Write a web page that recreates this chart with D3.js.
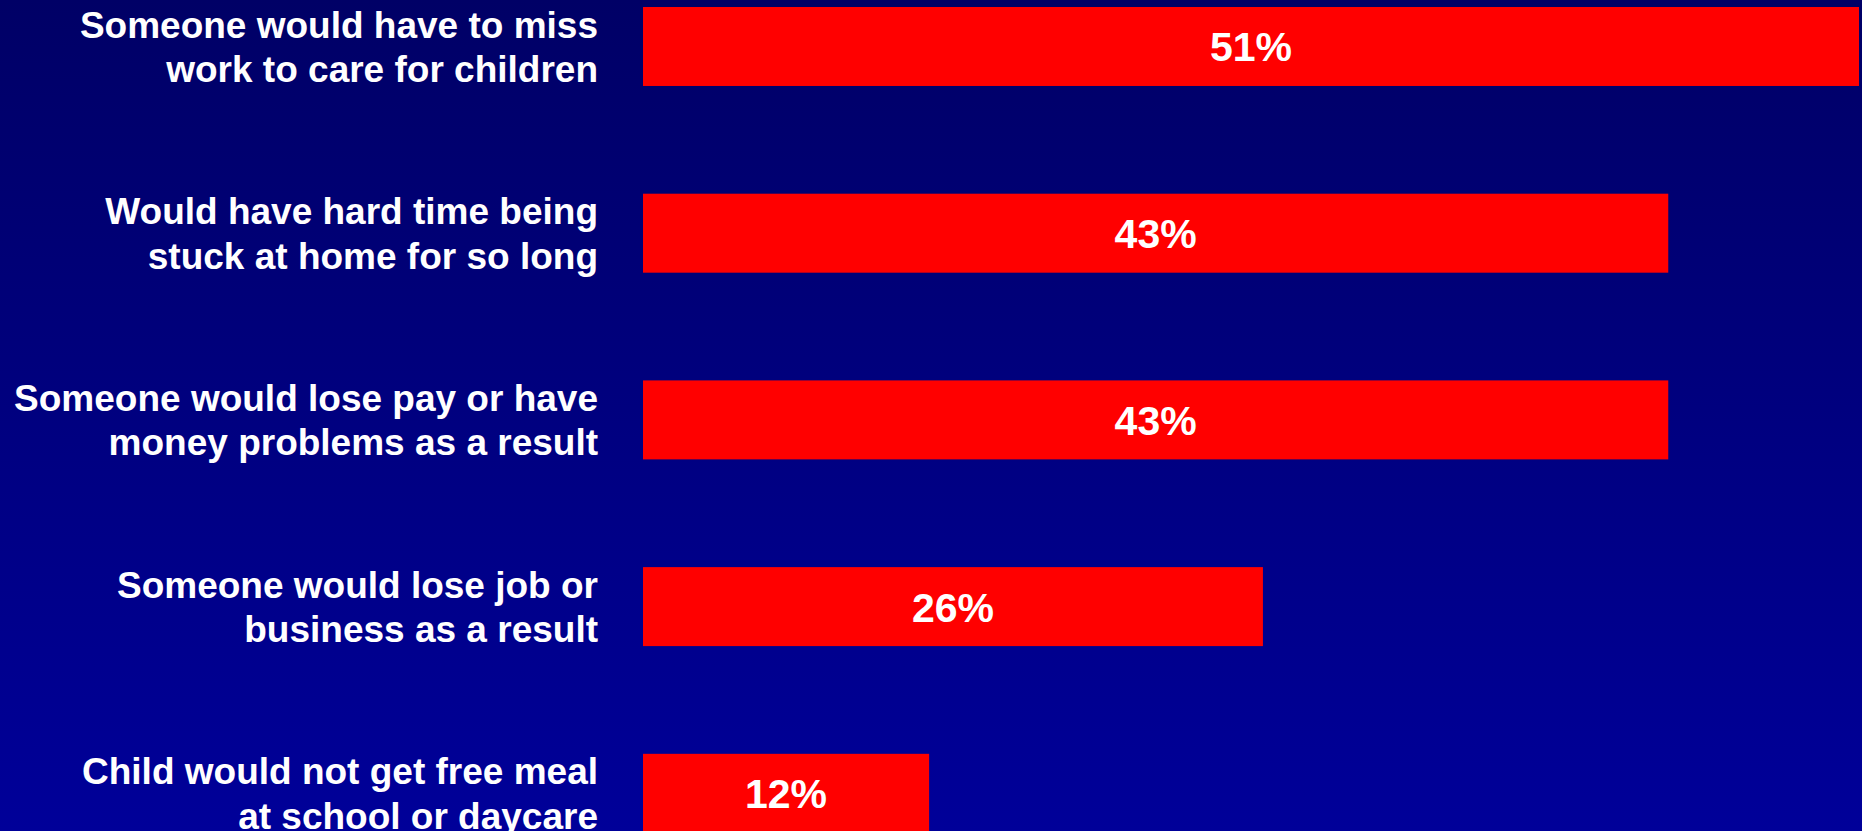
<!DOCTYPE html>
<html>
<head>
<meta charset="utf-8">
<script src="https://cdn.jsdelivr.net/npm/d3@7"></script>
<style>
  html, body { margin: 0; padding: 0; overflow: hidden; background: #000080; }
  svg { display: block; }
</style>
</head>
<body>
<svg id="chart" width="1862" height="831"></svg>
<script>
const categories = [
  ["Someone would have to miss", "work to care for children"],
  ["Would have hard time being", "stuck at home for so long"],
  ["Someone would lose pay or have", "money problems as a result"],
  ["Someone would lose job or", "business as a result"],
  ["Child would not get free meal", "at school or daycare"]
];
const values = [51, 43, 43, 26, 12];
const valueLabels = ["51%", "43%", "43%", "26%", "12%"];

const W = 1862, H = 831;
const svg = d3.select("#chart");

const defs = svg.append("defs");
const grad = defs.append("linearGradient")
  .attr("id", "bg").attr("x1", 0).attr("y1", 0).attr("x2", 0).attr("y2", 1);
grad.append("stop").attr("offset", "0%").attr("stop-color", "#000066");
grad.append("stop").attr("offset", "100%").attr("stop-color", "#000099");
svg.append("rect").attr("x", 0).attr("y", 0).attr("width", W).attr("height", H)
  .attr("fill", "url(#bg)");

const idx = d3.range(values.length);
const x = d3.scaleLinear().domain([0, 51]).range([643, 1859]);
const y = d3.scaleBand().domain(idx).range([7, 832.8]).paddingInner(0.577).paddingOuter(0);

svg.append("g").selectAll("rect").data(idx).join("rect")
  .attr("x", x(0))
  .attr("y", i => y(i))
  .attr("width", i => x(values[i]) - x(0))
  .attr("height", y.bandwidth())
  .attr("fill", "#ff0000");

svg.append("g").selectAll("text").data(idx).join("text")
  .attr("x", i => (x(0) + x(values[i])) / 2)
  .attr("y", i => y(i) + y.bandwidth() / 2 + 15)
  .attr("text-anchor", "middle")
  .attr("font-family", "'Liberation Sans', Arial, sans-serif")
  .attr("font-weight", "bold")
  .attr("font-size", 41)
  .attr("fill", "#ffffff")
  .text(i => valueLabels[i]);

const lab = svg.append("g").selectAll("text").data(idx).join("text")
  .attr("text-anchor", "end")
  .attr("font-family", "'Liberation Sans', Arial, sans-serif")
  .attr("font-weight", "bold")
  .attr("font-size", 37)
  .attr("fill", "#ffffff");
lab.each(function(i) {
  const t = d3.select(this);
  const top = y(i);
  categories[i].forEach((line, k) => {
    t.append("tspan").attr("x", 598).attr("y", top + 30.5 + k * 44.5).text(line);
  });
});
</script>
</body>
</html>
